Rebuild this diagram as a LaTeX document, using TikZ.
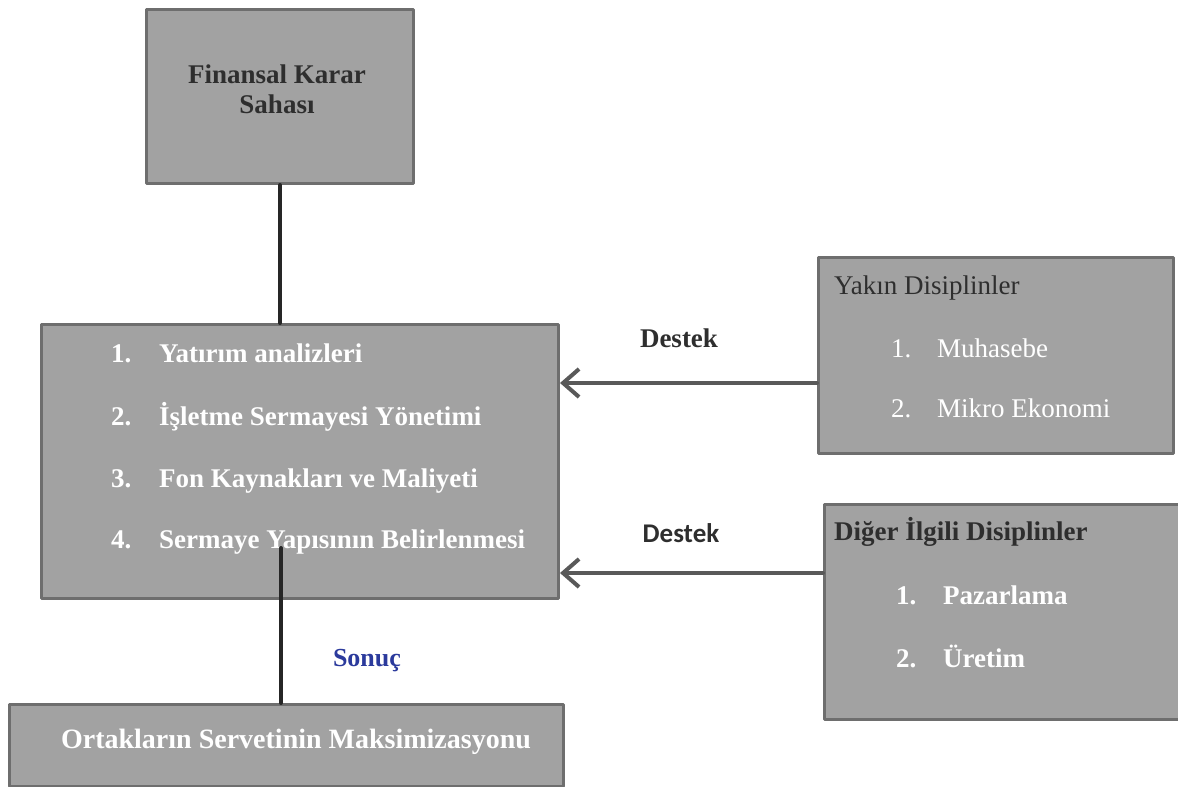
\documentclass[tikz,border=0pt]{standalone}
\usepackage{fontspec}
\setmainfont{Liberation Serif}
\newfontfamily\carlito{Carlito}
\usetikzlibrary{arrows.meta}
\definecolor{kutugri}{HTML}{A2A2A2}
\definecolor{kenargri}{HTML}{6E6E6E}
\definecolor{koyugri}{HTML}{2E2E2E}
\definecolor{okgri}{HTML}{595959}
\definecolor{sonucmavi}{HTML}{2B3A9C}

\begin{document}
\begin{tikzpicture}[line cap=round,line join=round,x=0.5pt,y=-0.5pt,
	kutu/.style={draw=kenargri,line width=1.5pt,fill=kutugri,anchor=north west,inner sep=0pt},
	madde/.style={anchor=base west,text=white,font=\fontsize{13.5}{16}\selectfont\bfseries},
	inceMadde/.style={anchor=base west,text=white,font=\fontsize{13.5}{16}\selectfont},
	baslik/.style={text=koyugri,font=\fontsize{13.5}{15}\selectfont\bfseries},
	baglanti/.style={draw=black!85,line width=2pt},
	destekok/.style={draw=okgri,line width=2pt,-{Straight Barb[length=8pt,width=14pt]}}]
		\useasboundingbox (0,0) rectangle (1178,787);
		% kutular
		\node[kutu,minimum width=133.5pt,minimum height=87pt] (karar) at (145,8) {};
		\node[kutu,minimum width=258.5pt,minimum height=137pt] (islem) at (40,323) {};
		\node[kutu,minimum width=177.5pt,minimum height=98pt] (yakin) at (817,256) {};
		\node[kutu,minimum width=177.5pt,minimum height=107.5pt] (diger) at (823,503) {};
		\node[kutu,minimum width=277pt,minimum height=41pt] (servet) at (8,703) {};
		% yazilar
		\node[baslik,align=center] (kararYazi) at (277,89) {Finansal Karar\\Sahası};
		\node[madde] (no1) at (104,362) {1.};
		\node[madde] (is1) at (152,362) {Yatırım analizleri};
		\node[madde] (no2) at (104,425) {2.};
		\node[madde] (is2) at (152,425) {İşletme Sermayesi Yönetimi};
		\node[madde] (no3) at (104,487) {3.};
		\node[madde] (is3) at (152,487) {Fon Kaynakları ve Maliyeti};
		\node[madde] (no4) at (104,548) {4.};
		\node[madde] (is4) at (152,548) {Sermaye Yapısının Belirlenmesi};
		\node[anchor=base west,text=koyugri,font=\fontsize{13.5}{16}\selectfont] (yakinBaslik) at (827,294) {Yakın Disiplinler};
		\node[inceMadde] (yno1) at (884,357) {1.};
		\node[inceMadde] (yad1) at (930,357) {Muhasebe};
		\node[inceMadde] (yno2) at (884,417) {2.};
		\node[inceMadde] (yad2) at (930,417) {Mikro Ekonomi};
		\node[baslik,anchor=base west] (digerBaslik) at (827,540) {Diğer İlgili Disiplinler};
		\node[madde] (dno1) at (889,604) {1.};
		\node[madde] (dad1) at (936,604) {Pazarlama};
		\node[madde] (dno2) at (889,667) {2.};
		\node[madde] (dad2) at (936,667) {Üretim};
		\node[text=white,font=\fontsize{14}{16}\selectfont\bfseries,anchor=base] (servetYazi) at (296,748) {Ortakların Servetinin Maksimizasyonu};
		\node[text=koyugri,font=\fontsize{13.5}{16}\selectfont\bfseries,anchor=base] (destek1) at (679,347) {Destek};
		\node[text=koyugri,font=\carlito\fontsize{13.5}{16}\selectfont\bfseries,anchor=base] (destek2) at (681,542) {Destek};
		\node[text=sonucmavi,font=\fontsize{13}{16}\selectfont\bfseries,anchor=base] (sonuc) at (367,666) {Sonuç};
		% baglantilar
		\coordinate (ok1) at (0,383);
		\coordinate (ok2) at (0,573);
		\coordinate (sonucBas) at (281,548);
		\draw[baglanti] (karar.south) -- (karar.south |- islem.north);
		\draw[baglanti] (sonucBas) -- (sonucBas |- servet.north);
		\draw[destekok] (yakin.west |- ok1) -- (islem.east |- ok1);
		\draw[destekok] (diger.west |- ok2) -- (islem.east |- ok2);
\end{tikzpicture}
\end{document}
